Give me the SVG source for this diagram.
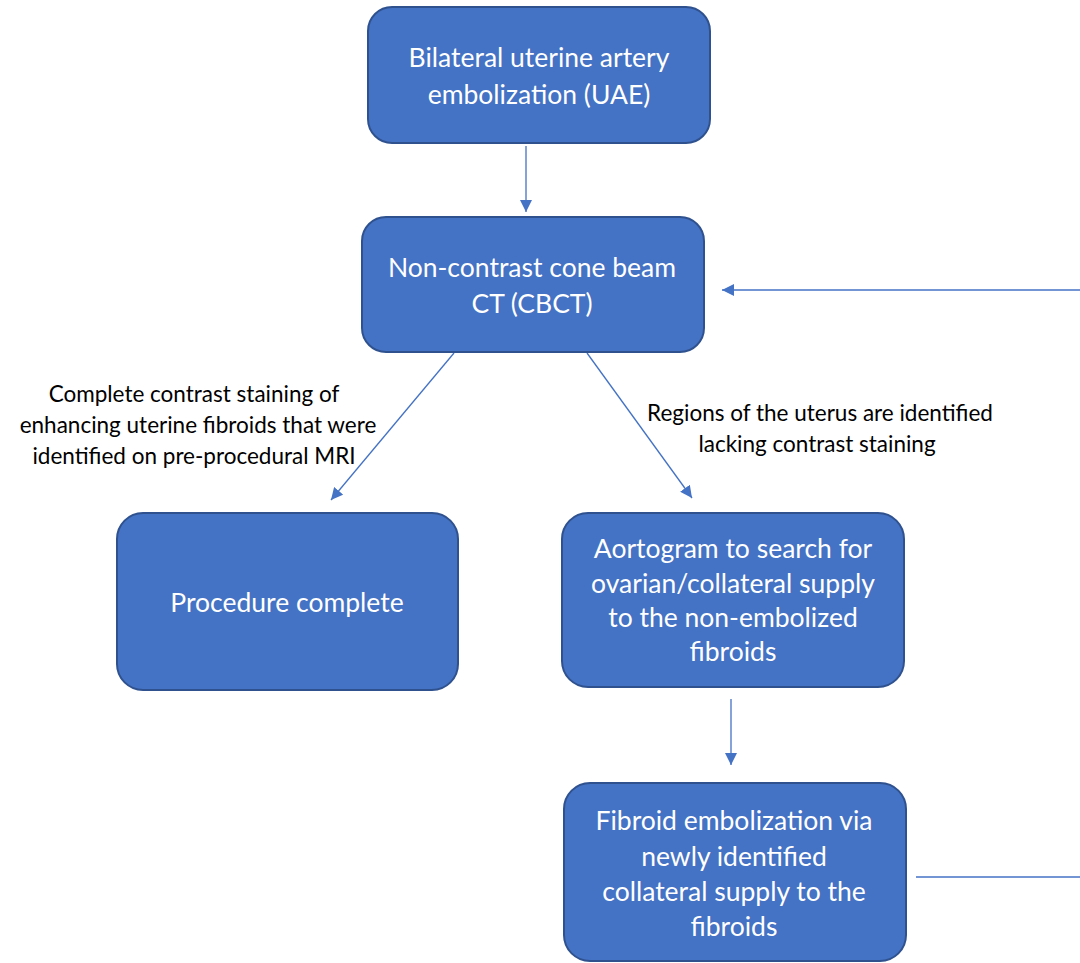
<svg xmlns="http://www.w3.org/2000/svg" width="1080" height="963" viewBox="0 0 1080 963">
<defs>
<style>
.box{fill:#4472C4;stroke:#2F528F;stroke-width:2}
.bt{font-family:Lato,"Liberation Sans",sans-serif;font-size:26.5px;fill:#fff;text-anchor:middle}
.lt{font-family:Lato,"Liberation Sans",sans-serif;font-size:22.5px;fill:#000;text-anchor:middle}
.c{stroke:#4472C4;stroke-width:1.3;fill:none}
</style>
<marker id="ah" viewBox="0 0 10 10" refX="10" refY="5" markerWidth="12" markerHeight="12" markerUnits="userSpaceOnUse" orient="auto">
<path d="M0,0 L10,5 L0,10 z" fill="#4472C4"/>
</marker>
</defs>
<rect width="1080" height="963" fill="#fff"/>
<g id="connectors">
<line class="c" x1="526" y1="146" x2="526" y2="212" marker-end="url(#ah)"/>
<line class="c" x1="454" y1="353" x2="331" y2="500" marker-end="url(#ah)"/>
<line class="c" x1="587" y1="353" x2="692" y2="498" marker-end="url(#ah)"/>
<line class="c" x1="731" y1="699" x2="731" y2="765" marker-end="url(#ah)"/>
<line class="c" x1="916" y1="877" x2="1080" y2="877"/>
<line class="c" x1="1080" y1="290" x2="722" y2="290" marker-end="url(#ah)"/>
<text class="lt" x="194" y="402">Complete contrast staining of</text>
<text class="lt" x="198" y="433">enhancing uterine fibroids that were</text>
<text class="lt" x="194" y="464">identified on pre-procedural MRI</text>
<text class="lt" x="820" y="421">Regions of the uterus are identified</text>
<text class="lt" x="817" y="452">lacking contrast staining</text>
</g>
<g id="n1">
<rect class="box" x="368" y="7" width="342" height="136" rx="24"/>
<text class="bt" x="539" y="67">Bilateral uterine artery</text>
<text class="bt" x="539" y="104">embolization (UAE)</text>
</g>
<g id="n2">
<rect class="box" x="362" y="217" width="342" height="135" rx="24"/>
<text class="bt" x="532" y="277">Non-contrast cone beam</text>
<text class="bt" x="532" y="313">CT (CBCT)</text>
</g>
<g id="n3">
<rect class="box" x="117" y="513" width="341" height="177" rx="26"/>
<text class="bt" x="287" y="612">Procedure complete</text>
</g>
<g id="n4">
<rect class="box" x="562" y="513" width="342" height="174" rx="26"/>
<text class="bt" x="733" y="558">Aortogram to search for</text>
<text class="bt" x="733" y="593">ovarian/collateral supply</text>
<text class="bt" x="733" y="627">to the non-embolized</text>
<text class="bt" x="733" y="661">fibroids</text>
</g>
<g id="n5">
<rect class="box" x="564" y="783" width="342" height="178" rx="26"/>
<text class="bt" x="734" y="830">Fibroid embolization via</text>
<text class="bt" x="734" y="866">newly identified</text>
<text class="bt" x="734" y="901">collateral supply to the</text>
<text class="bt" x="734" y="936">fibroids</text>
</g>
</svg>
